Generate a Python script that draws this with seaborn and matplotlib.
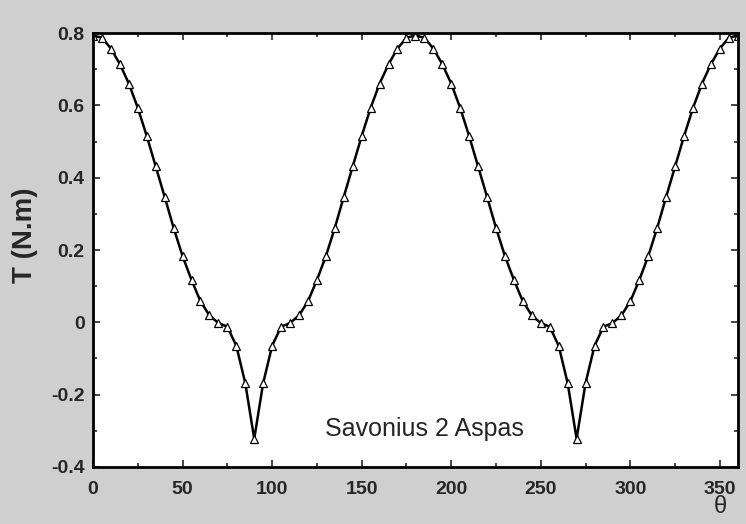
import matplotlib
matplotlib.use("Agg")
import matplotlib.pyplot as plt
import seaborn as sns
import pandas as pd
from matplotlib.ticker import MultipleLocator

theta = list(range(0, 365, 5))
torque = [
    0.793, 0.787, 0.757, 0.714, 0.660, 0.593, 0.515, 0.431, 0.347, 0.261,
    0.183, 0.117, 0.058, 0.019, -0.002, -0.012, -0.065, -0.168, -0.322,
    -0.168, -0.065, -0.012, -0.002, 0.019, 0.058, 0.117, 0.183, 0.261,
    0.347, 0.431, 0.515, 0.593, 0.660, 0.714, 0.757, 0.787, 0.793,
    0.787, 0.757, 0.714, 0.660, 0.593, 0.515, 0.431, 0.347, 0.261,
    0.183, 0.117, 0.058, 0.019, -0.002, -0.012, -0.065, -0.168, -0.322,
    -0.168, -0.065, -0.012, -0.002, 0.019, 0.058, 0.117, 0.183, 0.261,
    0.347, 0.431, 0.515, 0.593, 0.660, 0.714, 0.757, 0.787, 0.793,
]
x_ticks = [0, 50, 100, 150, 200, 250, 300, 350]
y_ticks = [-0.4, -0.2, 0, 0.2, 0.4, 0.6, 0.8]
y_tick_labels = ["-0.4", "-0.2", "0", "0.2", "0.4", "0.6", "0.8"]
annotation = "Savonius 2 Aspas"

df = pd.DataFrame({"theta": theta, "T": torque})

sns.set_style("ticks")
plt.rcParams["font.family"] = ["Liberation Sans", "DejaVu Sans"]

fig = plt.figure(figsize=(7.46, 5.24), dpi=100)
fig.patch.set_facecolor("#cfcfcf")
ax = fig.add_axes([0.1247, 0.1088, 0.8643, 0.8282])
ax.set_facecolor("white")

sns.lineplot(data=df, x="theta", y="T", ax=ax, color="black", linewidth=1.8,
             marker="^", markersize=5.5, markerfacecolor="white",
             markeredgecolor="black", markeredgewidth=0.9)

ax.set_xlim(0, 360)
ax.set_ylim(-0.4, 0.8)
ax.set_xticks(x_ticks)
ax.set_yticks(y_ticks)
ax.set_yticklabels(y_tick_labels)
ax.xaxis.set_minor_locator(MultipleLocator(25))
ax.yaxis.set_minor_locator(MultipleLocator(0.1))
ax.tick_params(which="both", direction="in", top=True, right=True,
               labeltop=False, labelright=False, width=1.2)
ax.tick_params(which="major", length=5, labelsize=14)
ax.tick_params(axis="x", which="major", pad=10)
ax.tick_params(axis="y", which="major", pad=6)
ax.tick_params(which="minor", length=3)
for lab in ax.get_xticklabels() + ax.get_yticklabels():
    lab.set_fontweight("bold")
for sp in ax.spines.values():
    sp.set_linewidth(2)
    sp.set_color("black")

ax.set_xlabel("")
ax.set_ylabel("T (N.m)", fontsize=20, fontweight="bold")
ax.yaxis.set_label_coords(-0.085, 0.535)
fig.text(0.965, 0.033, "θ", fontsize=17, ha="center", va="center")
ax.text(185, -0.295, annotation, fontsize=18, ha="center", va="center")

fig.savefig("out.png", dpi=100, facecolor=fig.get_facecolor())
